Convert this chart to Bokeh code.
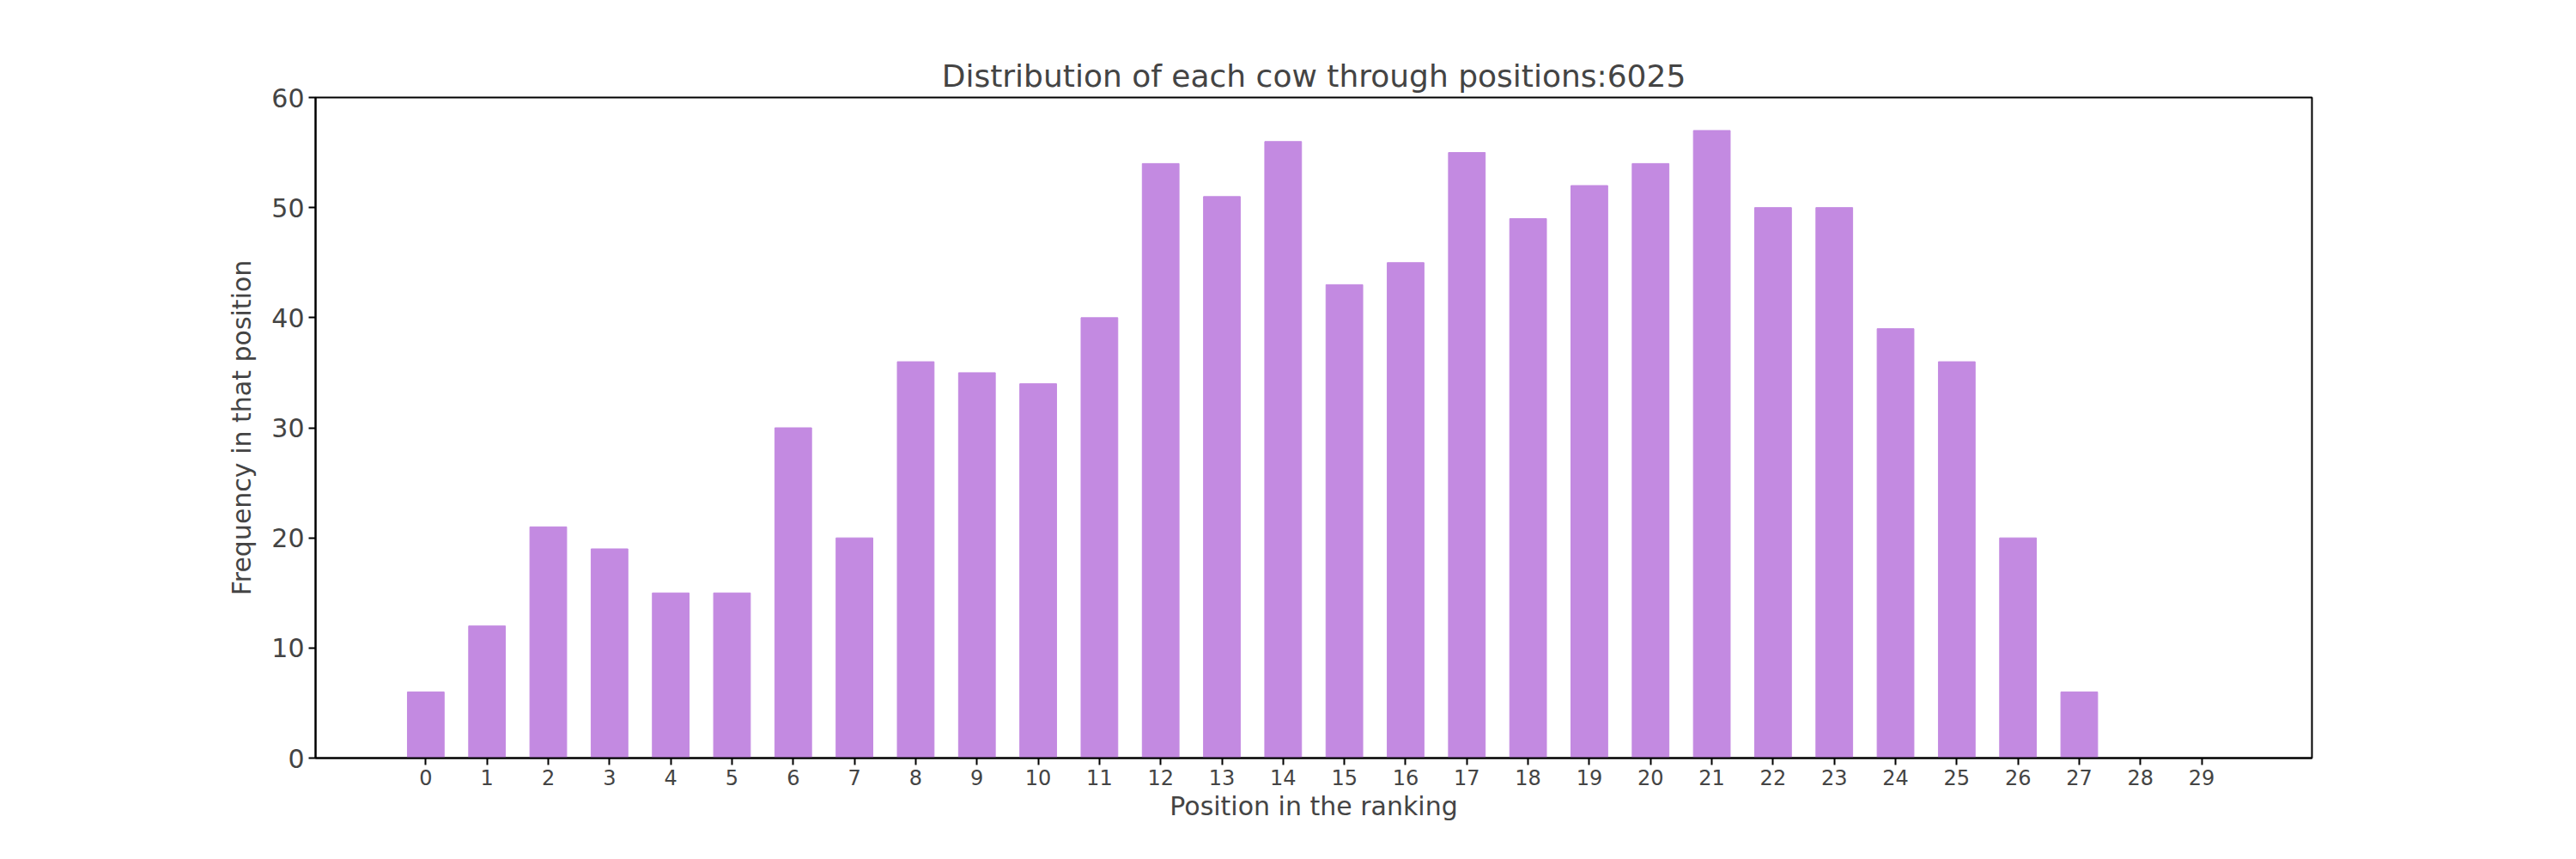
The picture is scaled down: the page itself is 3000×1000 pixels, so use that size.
from bokeh.plotting import figure
from bokeh.models import Range1d, FixedTicker
from bokeh.embed import file_html
from bokeh.resources import INLINE

positions = list(range(30))
frequency = [6, 12, 21, 19, 15, 15, 30, 20, 36, 35, 34, 40, 54, 51, 56,
             43, 45, 55, 49, 52, 54, 57, 50, 50, 39, 36, 20, 6, 0, 0]

p = figure(width=2980, height=980, output_backend="svg", toolbar_location=None,
           title="Distribution of each cow through positions:6025",
           x_range=Range1d(-1.8, 30.8), y_range=Range1d(0, 60),
           min_border_left=367, min_border_right=288,
           min_border_top=113, min_border_bottom=98)

p.vbar(x=positions, top=frequency, width=0.6, color="#c38ae1")

p.title.align = "center"
p.title.text_font = "DejaVu Sans"
p.title.text_font_size = "36px"
p.title.text_font_style = "normal"

p.xgrid.visible = False
p.ygrid.visible = False
p.outline_line_color = "black"
p.outline_line_width = 2

p.xaxis.ticker = FixedTicker(ticks=positions)
p.yaxis.ticker = FixedTicker(ticks=[0, 10, 20, 30, 40, 50, 60])
p.xaxis.axis_label = "Position in the ranking"
p.yaxis.axis_label = "Frequency in that position"
for ax in (p.xaxis, p.yaxis):
    ax.axis_label_text_font = "DejaVu Sans"
    ax.axis_label_text_font_style = "normal"
    ax.axis_label_text_font_size = "30px"
    ax.major_label_text_font = "DejaVu Sans"
    ax.minor_tick_line_color = None
    ax.major_tick_out = 8
    ax.major_tick_in = 0
    ax.major_tick_line_width = 2
    ax.axis_line_width = 2
p.xaxis.major_label_text_font_size = "24px"
p.yaxis.major_label_text_font_size = "30px"
p.xaxis.axis_label_standoff = 4
p.yaxis.axis_label_standoff = 14

open("out.html", "w").write(file_html(p, INLINE))
